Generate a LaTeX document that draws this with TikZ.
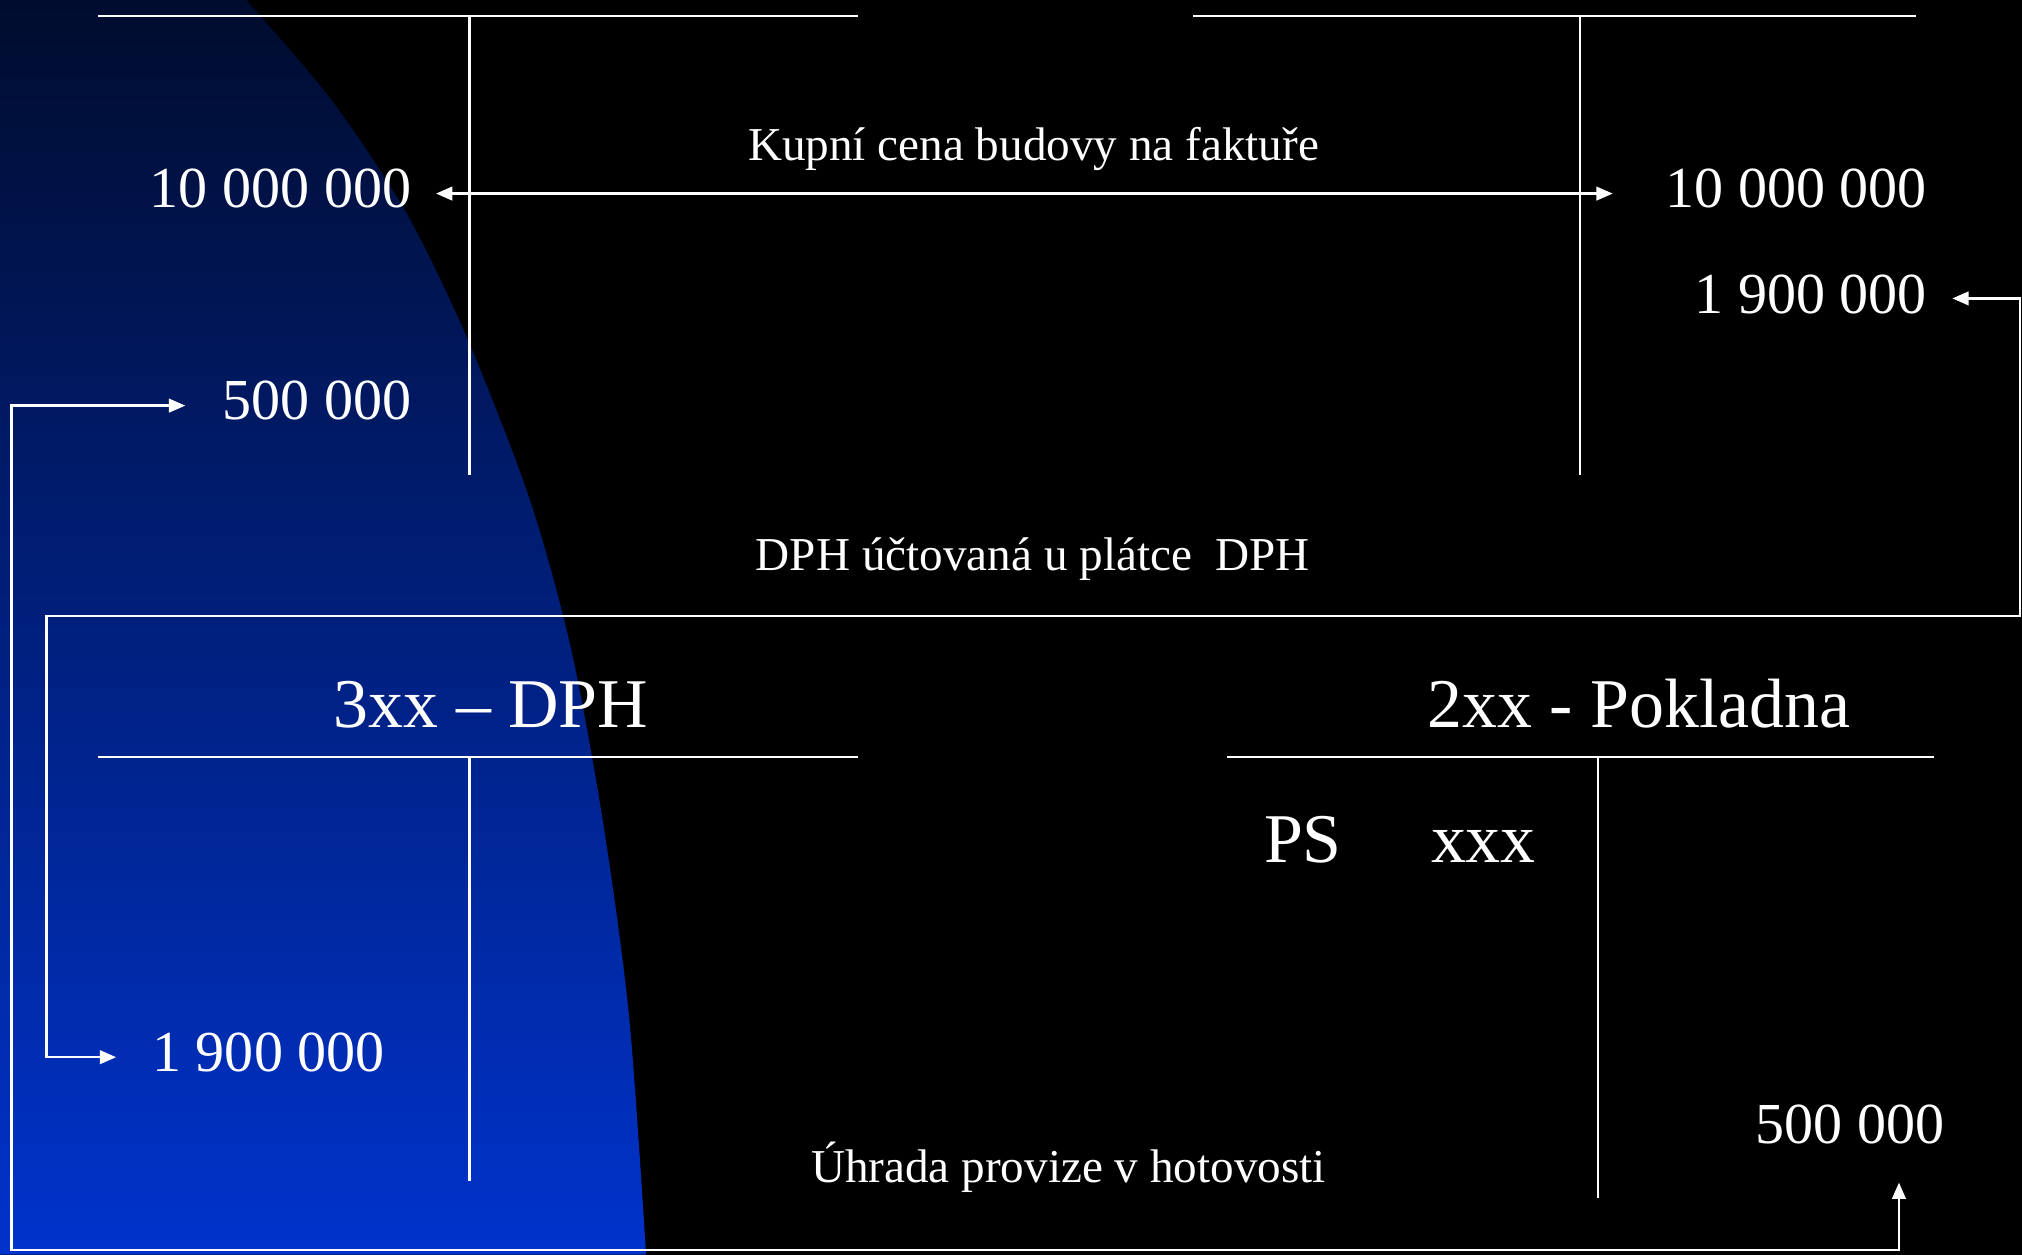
\documentclass[tikz,border=0pt]{standalone}
\usepackage{fontspec}
\setmainfont{Liberation Serif}
\usetikzlibrary{arrows.meta}

\begin{document}
\begin{tikzpicture}[x=0.01cm, y=-0.01cm,
  num/.style = {text=white, font=\fontsize{12.8}{14}\selectfont, inner sep=0pt},
  acct/.style = {text=white, font=\fontsize{15.4}{17}\selectfont, inner sep=0pt},
  note/.style = {text=white, font=\fontsize{10.4}{12}\selectfont, inner sep=0pt},
  tline/.style = {draw=white, line width=0.5pt},
  link/.style = {draw=white, line width=0.5pt,
    {Triangle[length=3.6pt,width=3pt]}-{Triangle[length=3.6pt,width=3pt]}}]
  % background
  \fill[black] (0,0) rectangle (1568,973);
  \shade[top color={rgb,255:red,0;green,12;blue,46}, bottom color={rgb,255:red,0;green,51;blue,204}]
    (0,0) -- plot[smooth, tension=0.5] coordinates {(191,0) (257,77.5) (315,165) (363,264) (411,388)
      (443,504) (468,640) (488,790) (501,973)} -- (0,973) -- cycle;

  % T accounts
  \draw[tline] (76,12.4) -- (665,12.4) (364,12.4) -- (364,368.5);
  \draw[tline] (925,12.4) -- (1486,12.4) (1225.5,12.4) -- (1225.5,368.5);
  \draw[tline] (76,586.8) -- (665,586.8) (364,586.8) -- (364,915.6);
  \draw[tline] (951.5,586.8) -- (1500,586.8) (1239,586.8) -- (1239,929);

  \node[num, anchor=base east] (k1) at (319.5,161) {10 000 000};
  \node[num, anchor=base east] (p1) at (319.5,325.6) {500 000};
  \node[num, anchor=base east] (k2) at (1495,161) {10 000 000};
  \node[num, anchor=base east] (v2) at (1495,243) {1 900 000};
  \node[acct, anchor=base] (t1) at (380.75,564) {3xx – DPH};
  \node[acct, anchor=base] (t2) at (1271,564) {2xx - Pokladna};
  \node[acct, anchor=base west] (ps) at (979.5,668.7) {PS};
  \node[acct, anchor=base west] (xx) at (1109,668.7) {xxx};
  \node[num, anchor=base west] (v3) at (117.5,830.7) {1 900 000};
  \node[num, anchor=base east] (p2) at (1508.5,886.4) {500 000};

  \node[note, anchor=base] (lk) at (801.5,124.6) {Kupní cena budovy na faktuře};
  \node[note, anchor=base] (ld) at (801,442.5) {DPH účtovaná u plátce\hspace{0.25em} DPH};
  \node[note, anchor=base] (lu) at (828.5,917) {Úhrada provize v hotovosti};

  \coordinate (dr) at (1566.5,477.6);
  \coordinate (dl) at (36,477.6);
  \coordinate (pr) at (1472.6,969.5);
  \coordinate (pl) at (9,969.5);

  \draw[link, shorten <=5.3pt, shorten >=11.5pt] ([yshift=-1.1pt]k1.east) -- ([yshift=-1.1pt]k2.west);
  \draw[link, shorten <=5.4pt, shorten >=7.8pt] ([yshift=-0.9pt]v2.east) -| (dr) -- (dl) |- ([yshift=-1.1pt]v3.west);
  \draw[link, shorten <=8.4pt, shorten >=8pt] (pr |- p2.south) -- (pr) -- (pl) |- ([yshift=-1.05pt]p1.west);
\end{tikzpicture}
\end{document}
